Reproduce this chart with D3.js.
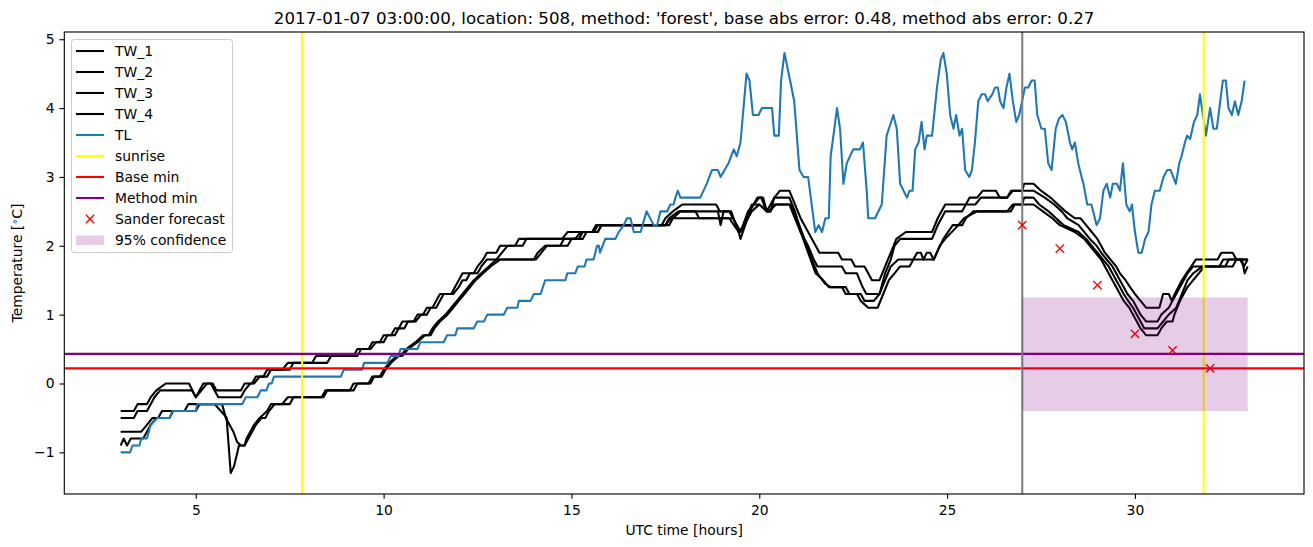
<!DOCTYPE html>
<html><head><meta charset="utf-8">
<script src="https://cdn.jsdelivr.net/npm/d3@7"></script>
<style>body{margin:0;background:#fff}svg{display:block}text{font-family:"DejaVu Sans",sans-serif}</style>
</head><body>
<svg id="c" width="1313" height="547"></svg>
<script>
const titleText = "2017-01-07 03:00:00, location: 508, method: 'forest', base abs error: 0.48, method abs error: 0.27";
const xTicks = [5,10,15,20,25,30];
const yTicks = [-1,0,1,2,3,4,5];
const seriesNames = ["TW_1","TW_2","TW_3","TW_4","TL"];
const sunrise = [7.83, 31.83];
const forecastStart = 27;
const baseMin = 0.22;
const methodMin = 0.43;
const forecastT = [27,28,29,30,31,32];
const forecastV = [2.3,1.96,1.43,0.72,0.48,0.22];
const confT = [27,33];
const confLow = -0.4, confHigh = 1.25;

const tw1 = [[3.0,-0.4],[3.35,-0.4],[3.45,-0.3],[3.7,-0.3],[3.8,-0.2],[3.95,-0.1],[4.2,0.0],[4.82,0.0],[5.0,-0.2],[5.2,0.0],[5.45,0.0],[5.55,-0.1],[6.2,-0.1],[6.3,0.0],[6.5,0.0],[6.6,0.1],[6.8,0.1],[6.9,0.2],[7.3,0.2],[7.45,0.3],[8.1,0.3],[8.2,0.4],[9.2,0.4],[9.3,0.5],[9.6,0.5],[9.7,0.6],[9.9,0.6],[10.0,0.7],[10.2,0.7],[10.3,0.8],[10.4,0.8],[10.5,0.9],[10.8,0.9],[10.9,1.0],[11.05,1.0],[11.15,1.1],[11.3,1.1],[11.4,1.2],[11.5,1.3],[11.8,1.3],[11.9,1.4],[12.0,1.5],[12.1,1.6],[12.4,1.6],[12.5,1.7],[12.65,1.8],[12.75,1.9],[13.0,1.9],[13.1,2.0],[13.5,2.0],[13.6,2.1],[14.75,2.1],[14.9,2.2],[15.55,2.2],[15.65,2.3],[17.4,2.3],[17.5,2.4],[17.7,2.5],[17.95,2.6],[18.85,2.6],[18.95,2.5],[19.2,2.5],[19.4,2.3],[19.5,2.2],[19.7,2.5],[19.85,2.6],[20.0,2.7],[20.1,2.7],[20.2,2.5],[20.3,2.6],[20.4,2.7],[20.55,2.8],[20.8,2.8],[20.95,2.6],[21.1,2.4],[21.3,2.2],[21.5,2.0],[21.6,1.9],[22.1,1.9],[22.2,1.8],[22.45,1.8],[22.55,1.7],[22.8,1.7],[22.9,1.6],[23.0,1.5],[23.2,1.5],[23.35,1.7],[23.5,1.9],[23.65,2.1],[23.9,2.2],[24.6,2.2],[24.75,2.4],[24.95,2.6],[25.5,2.6],[25.6,2.7],[25.8,2.7],[25.95,2.8],[26.3,2.8],[26.4,2.7],[26.6,2.7],[26.7,2.8],[27.0,2.8],[27.05,2.9],[27.3,2.9],[27.5,2.8],[27.75,2.7],[27.95,2.6],[28.15,2.5],[28.4,2.4],[28.55,2.4],[28.7,2.3],[28.85,2.2],[29.0,2.1],[29.1,2.0],[29.2,1.9],[29.35,1.8],[29.5,1.7],[29.6,1.6],[29.75,1.5],[29.87,1.4],[30.0,1.3],[30.15,1.2],[30.3,1.1],[30.65,1.1],[30.75,1.3],[30.9,1.3],[30.98,1.2],[31.06,1.3],[31.25,1.5],[31.37,1.6],[31.5,1.7],[31.62,1.8],[32.2,1.8],[32.3,1.9],[32.6,1.9],[32.7,1.8],[33.0,1.8]];
const tw2 = [[3.0,-0.5],[3.35,-0.5],[3.45,-0.4],[3.7,-0.4],[3.8,-0.3],[3.9,-0.2],[4.05,-0.1],[4.9,-0.1],[5.0,-0.2],[5.15,-0.1],[5.3,0.0],[5.4,0.0],[5.5,-0.1],[5.6,-0.2],[6.2,-0.2],[6.3,-0.1],[6.45,0.0],[6.55,0.0],[6.7,0.1],[6.9,0.1],[7.0,0.2],[7.5,0.2],[7.6,0.3],[8.5,0.3],[8.6,0.4],[9.3,0.4],[9.4,0.5],[9.65,0.5],[9.8,0.6],[10.0,0.6],[10.1,0.7],[10.3,0.7],[10.4,0.8],[10.55,0.8],[10.65,0.9],[10.85,0.9],[11.0,1.0],[11.15,1.0],[11.25,1.1],[11.4,1.1],[11.5,1.2],[11.6,1.3],[11.85,1.3],[12.0,1.4],[12.1,1.5],[12.2,1.5],[12.3,1.6],[12.5,1.6],[12.6,1.7],[12.75,1.8],[13.0,1.8],[13.15,1.9],[13.3,2.0],[13.7,2.0],[13.8,2.1],[15.1,2.1],[15.25,2.2],[15.7,2.2],[15.8,2.3],[17.5,2.3],[17.6,2.4],[17.85,2.5],[18.9,2.5],[18.97,2.3],[19.05,2.5],[19.25,2.5],[19.45,2.2],[19.5,2.1],[19.75,2.5],[19.95,2.7],[20.05,2.7],[20.2,2.5],[20.3,2.5],[20.4,2.7],[20.8,2.7],[20.95,2.5],[21.1,2.2],[21.3,2.0],[21.45,1.8],[21.55,1.7],[22.2,1.7],[22.3,1.6],[22.6,1.6],[22.75,1.4],[22.85,1.3],[23.2,1.3],[23.35,1.6],[23.5,1.8],[23.6,2.0],[23.75,2.1],[24.6,2.1],[24.75,2.3],[24.95,2.5],[25.4,2.5],[25.5,2.6],[25.75,2.6],[25.9,2.7],[26.6,2.7],[26.75,2.8],[27.3,2.8],[27.6,2.7],[27.85,2.6],[28.05,2.5],[28.2,2.4],[28.5,2.3],[28.65,2.2],[28.8,2.1],[28.98,2.0],[29.1,1.9],[29.25,1.8],[29.4,1.7],[29.5,1.6],[29.6,1.5],[29.7,1.4],[29.8,1.3],[29.95,1.2],[30.05,1.1],[30.15,1.0],[30.3,0.9],[30.6,0.9],[30.7,1.0],[30.9,1.1],[31.0,1.2],[31.2,1.4],[31.4,1.6],[31.55,1.7],[32.25,1.7],[32.35,1.8],[33.0,1.8]];
const tw3 = [[3.0,-0.7],[3.55,-0.7],[3.7,-0.6],[3.85,-0.5],[4.0,-0.5],[4.1,-0.4],[4.7,-0.4],[4.8,-0.3],[5.7,-0.3],[5.8,-0.5],[6.0,-0.7],[6.1,-0.85],[6.2,-0.9],[6.3,-0.9],[6.4,-0.8],[6.5,-0.7],[6.6,-0.6],[6.75,-0.5],[6.85,-0.5],[6.95,-0.4],[7.1,-0.3],[7.5,-0.3],[7.6,-0.2],[8.4,-0.2],[8.5,-0.1],[9.1,-0.1],[9.2,0.0],[9.6,0.0],[9.7,0.1],[9.9,0.1],[10.0,0.2],[10.15,0.3],[10.35,0.4],[10.45,0.4],[10.6,0.5],[10.85,0.6],[11.05,0.7],[11.2,0.7],[11.3,0.8],[11.45,0.9],[11.65,1.0],[11.8,1.1],[11.95,1.2],[12.1,1.3],[12.25,1.4],[12.4,1.5],[12.6,1.6],[12.8,1.7],[13.0,1.8],[14.0,1.8],[14.1,1.9],[14.3,2.0],[14.7,2.0],[14.8,2.1],[15.2,2.1],[15.3,2.2],[15.6,2.2],[15.7,2.3],[17.6,2.3],[17.7,2.4],[17.9,2.5],[18.3,2.5],[18.4,2.4],[19.2,2.4],[19.45,2.2],[19.6,2.3],[19.8,2.6],[20.0,2.6],[20.2,2.5],[20.3,2.5],[20.4,2.6],[20.8,2.6],[20.95,2.4],[21.1,2.2],[21.3,1.9],[21.5,1.6],[21.7,1.5],[21.85,1.4],[22.2,1.4],[22.3,1.3],[22.7,1.3],[22.8,1.2],[23.05,1.2],[23.2,1.3],[23.35,1.5],[23.5,1.7],[23.7,1.8],[24.1,1.8],[24.2,1.9],[24.3,1.9],[24.37,1.8],[24.46,1.9],[24.55,1.9],[24.64,1.8],[24.9,2.1],[25.15,2.3],[25.4,2.3],[25.5,2.4],[25.7,2.5],[26.6,2.5],[26.75,2.6],[27.0,2.6],[27.05,2.7],[27.3,2.7],[27.45,2.6],[27.7,2.5],[27.9,2.4],[28.1,2.3],[28.5,2.2],[28.7,2.1],[28.85,2.0],[29.0,1.9],[29.15,1.8],[29.3,1.7],[29.4,1.6],[29.5,1.5],[29.6,1.4],[29.7,1.3],[29.82,1.2],[29.95,1.1],[30.05,1.0],[30.15,0.9],[30.25,0.8],[30.6,0.8],[30.75,0.9],[30.9,1.0],[31.1,1.1],[31.25,1.3],[31.4,1.5],[31.55,1.6],[31.8,1.7],[32.4,1.7],[32.5,1.8],[32.8,1.8],[32.9,1.7],[33.0,1.8]];
const tw4 = [[3.0,-0.9],[3.08,-0.8],[3.17,-0.9],[3.27,-0.8],[3.6,-0.8],[3.7,-0.7],[3.8,-0.6],[3.95,-0.5],[4.3,-0.5],[4.4,-0.4],[5.0,-0.4],[5.1,-0.3],[5.5,-0.3],[5.75,-0.45],[5.82,-0.5],[5.93,-1.3],[6.02,-1.2],[6.15,-0.9],[6.3,-0.9],[6.35,-0.8],[6.45,-0.7],[6.55,-0.6],[6.7,-0.5],[6.9,-0.4],[7.0,-0.3],[7.3,-0.3],[7.45,-0.2],[8.35,-0.2],[8.45,-0.1],[9.2,-0.1],[9.3,0.0],[9.65,0.0],[9.75,0.1],[9.95,0.1],[10.05,0.2],[10.2,0.3],[10.4,0.4],[10.5,0.4],[10.65,0.5],[10.9,0.6],[11.1,0.7],[11.25,0.7],[11.35,0.8],[11.5,0.9],[11.7,1.0],[11.85,1.1],[12.0,1.2],[12.15,1.3],[12.3,1.4],[12.45,1.5],[12.65,1.6],[12.85,1.7],[13.1,1.8],[14.05,1.8],[14.2,1.9],[14.35,2.0],[14.9,2.0],[15.0,2.1],[15.3,2.1],[15.4,2.2],[15.7,2.2],[15.8,2.3],[17.5,2.3],[17.65,2.4],[19.3,2.4],[19.5,2.2],[19.8,2.5],[20.0,2.6],[20.25,2.5],[20.45,2.6],[20.85,2.6],[21.0,2.4],[21.2,2.1],[21.4,1.8],[21.55,1.6],[21.75,1.45],[21.9,1.4],[22.3,1.4],[22.4,1.3],[22.6,1.3],[22.7,1.2],[22.9,1.1],[23.15,1.1],[23.3,1.3],[23.45,1.5],[23.6,1.6],[23.75,1.7],[24.0,1.7],[24.1,1.8],[24.65,1.8],[24.8,2.0],[24.95,2.1],[25.3,2.3],[25.45,2.4],[25.8,2.5],[26.7,2.5],[26.8,2.6],[27.3,2.6],[27.55,2.5],[27.8,2.4],[28.0,2.3],[28.4,2.2],[28.65,2.1],[28.8,2.0],[28.95,1.9],[29.1,1.8],[29.2,1.7],[29.3,1.6],[29.4,1.5],[29.5,1.4],[29.6,1.3],[29.7,1.2],[29.85,1.1],[29.95,1.0],[30.05,0.9],[30.15,0.8],[30.3,0.7],[30.6,0.7],[30.7,0.8],[30.85,0.9],[31.0,0.9],[31.05,1.0],[31.2,1.2],[31.4,1.4],[31.55,1.5],[31.7,1.6],[31.85,1.7],[32.6,1.7],[32.7,1.8],[32.85,1.8],[32.92,1.6],[33.0,1.7]];
const tl = [[3.0,-1.0],[3.25,-1.0],[3.32,-0.9],[3.5,-0.9],[3.55,-0.8],[3.7,-0.8],[3.8,-0.6],[3.98,-0.5],[4.3,-0.5],[4.38,-0.4],[5.0,-0.4],[5.04,-0.3],[6.24,-0.3],[6.33,-0.2],[6.64,-0.2],[6.73,-0.1],[6.88,-0.1],[6.95,0.0],[7.02,0.0],[7.08,0.1],[8.86,0.1],[8.94,0.2],[9.43,0.2],[9.48,0.3],[10.1,0.3],[10.19,0.4],[10.4,0.4],[10.45,0.5],[10.9,0.5],[10.98,0.6],[11.6,0.6],[11.69,0.7],[11.91,0.7],[11.96,0.8],[12.4,0.8],[12.49,0.9],[12.67,0.9],[12.76,1.0],[13.2,1.0],[13.29,1.1],[13.56,1.1],[13.6,1.2],[13.91,1.2],[14.0,1.3],[14.18,1.3],[14.3,1.5],[14.84,1.5],[14.89,1.6],[15.1,1.6],[15.17,1.7],[15.35,1.7],[15.4,1.8],[15.59,1.8],[15.68,2.0],[15.73,2.0],[15.76,1.9],[15.9,2.1],[16.17,2.1],[16.26,2.2],[16.39,2.3],[16.48,2.4],[16.57,2.4],[16.66,2.2],[16.84,2.2],[17.0,2.5],[17.19,2.3],[17.28,2.3],[17.37,2.5],[17.55,2.5],[17.63,2.6],[17.72,2.6],[17.77,2.7],[17.83,2.8],[17.9,2.7],[18.43,2.7],[18.6,2.9],[18.74,3.1],[18.9,3.1],[18.97,3.0],[19.18,3.2],[19.32,3.4],[19.4,3.3],[19.5,3.5],[19.66,4.5],[19.74,4.4],[19.83,3.9],[19.98,3.9],[20.07,4.0],[20.34,4.0],[20.4,3.6],[20.52,3.6],[20.58,4.4],[20.67,4.8],[20.82,4.4],[20.93,4.1],[21.07,3.1],[21.18,3.0],[21.3,3.0],[21.49,2.2],[21.58,2.3],[21.67,2.2],[21.76,2.4],[21.85,2.4],[21.9,3.3],[22.07,4.0],[22.15,3.7],[22.24,2.9],[22.33,3.2],[22.5,3.4],[22.68,3.4],[22.76,3.5],[22.86,2.8],[22.9,2.4],[23.08,2.4],[23.26,2.6],[23.39,3.6],[23.57,3.9],[23.66,3.7],[23.75,2.9],[23.93,2.7],[24.0,2.8],[24.08,2.8],[24.15,3.4],[24.24,3.5],[24.32,3.8],[24.4,3.4],[24.46,3.6],[24.6,3.6],[24.73,4.3],[24.83,4.7],[24.9,4.8],[24.99,4.5],[25.08,3.9],[25.17,3.7],[25.24,3.9],[25.33,3.6],[25.4,3.7],[25.48,3.1],[25.59,3.0],[25.66,3.1],[25.74,3.5],[25.83,4.1],[25.92,4.2],[26.01,4.2],[26.08,4.1],[26.2,4.2],[26.28,4.3],[26.35,4.3],[26.41,4.1],[26.5,4.0],[26.58,4.3],[26.66,4.5],[26.75,4.1],[26.84,3.8],[26.92,3.9],[27.07,4.3],[27.16,4.3],[27.25,4.4],[27.33,4.4],[27.4,3.9],[27.51,3.7],[27.6,3.7],[27.69,3.2],[27.78,3.1],[27.89,3.7],[27.98,3.85],[28.07,3.9],[28.16,3.8],[28.27,3.5],[28.33,3.4],[28.4,3.5],[28.49,3.2],[28.58,3.0],[28.63,2.9],[28.73,2.6],[28.84,2.6],[28.98,2.3],[29.07,2.4],[29.16,2.8],[29.25,2.9],[29.34,2.7],[29.41,2.9],[29.52,2.9],[29.6,2.8],[29.68,3.2],[29.77,2.6],[29.86,2.5],[29.92,2.6],[30.0,2.2],[30.09,1.9],[30.18,1.9],[30.27,2.1],[30.36,2.2],[30.44,2.6],[30.53,2.8],[30.66,2.8],[30.76,3.0],[30.86,3.1],[30.95,3.1],[31.09,2.9],[31.18,3.2],[31.24,3.3],[31.33,3.5],[31.39,3.6],[31.47,3.55],[31.57,3.8],[31.66,3.9],[31.73,4.2],[31.81,3.9],[31.89,3.6],[32.0,4.0],[32.09,3.7],[32.18,3.7],[32.27,4.1],[32.34,4.4],[32.42,4.4],[32.49,4.0],[32.58,3.9],[32.66,4.1],[32.75,3.9],[32.84,4.1],[32.92,4.4]];

const PX = 100/72; // matplotlib pt -> px at dpi 100
const L = 64.3, R = 1304, T = 32, B = 494;
const x = d3.scaleLinear().domain([1.5, 34.5]).range([L, R]);
const y = d3.scaleLinear().domain([-1.605, 5.105]).range([B, T]);
const svg = d3.select("#c");
const fs = 10*PX;

svg.append("defs").append("clipPath").attr("id","clip").append("rect")
  .attr("x",L).attr("y",T).attr("width",R-L).attr("height",B-T);
const g = svg.append("g").attr("clip-path","url(#clip)");
const line = d3.line().x(d=>x(d[0])).y(d=>y(d[1]));
const lw = 1.5*PX;

[tw1,tw2,tw3,tw4].forEach(s=>{
  g.append("path").datum(s).attr("d",line).attr("fill","none").attr("stroke","#000").attr("stroke-width",lw).attr("stroke-linejoin","round");
});
g.append("path").datum(tl).attr("d",line).attr("fill","none").attr("stroke","#1f77b4").attr("stroke-width",lw).attr("stroke-linejoin","round");

sunrise.forEach(s=>{
  g.append("line").attr("x1",x(s)).attr("x2",x(s)).attr("y1",T).attr("y2",B).attr("stroke","#ffff00").attr("stroke-width",lw);
});
g.append("line").attr("x1",L).attr("x2",R).attr("y1",y(baseMin)).attr("y2",y(baseMin)).attr("stroke","#ff0000").attr("stroke-width",lw);
g.append("line").attr("x1",L).attr("x2",R).attr("y1",y(methodMin)).attr("y2",y(methodMin)).attr("stroke","#800080").attr("stroke-width",lw);
g.append("line").attr("x1",x(forecastStart)).attr("x2",x(forecastStart)).attr("y1",T).attr("y2",B).attr("stroke","#808080").attr("stroke-width",lw);

const ms = 3*PX;
forecastT.forEach((t,i)=>{
  const cx=x(t), cy=y(forecastV[i]);
  g.append("path").attr("d",`M${cx-ms},${cy-ms}L${cx+ms},${cy+ms}M${cx-ms},${cy+ms}L${cx+ms},${cy-ms}`)
   .attr("stroke","#ff0000").attr("stroke-width",1*PX).attr("fill","none");
});
g.append("rect").attr("x",x(confT[0])).attr("y",y(confHigh)).attr("width",x(confT[1])-x(confT[0])).attr("height",y(confLow)-y(confHigh))
  .attr("fill","#800080").attr("fill-opacity",0.2);

// axes
const tl4 = 3.5*PX;
const xa = svg.append("g").attr("transform",`translate(0,${B})`)
  .call(d3.axisBottom(x).tickValues(xTicks).tickSize(tl4).tickPadding(5.8).tickSizeOuter(0));
const ya = svg.append("g").attr("transform",`translate(${L},0)`)
  .call(d3.axisLeft(y).tickValues(yTicks).tickSize(tl4).tickPadding(4.86).tickSizeOuter(0).tickFormat(d=> d<0 ? "\u2212"+Math.abs(d) : String(d)));
[xa,ya].forEach(a=>{
  a.select(".domain").remove();
  a.selectAll("line").attr("stroke","#000").attr("stroke-width",0.8*PX);
  a.selectAll("text").attr("font-size",fs).attr("fill","#000").attr("font-family","DejaVu Sans");
});
svg.append("rect").attr("x",L).attr("y",T).attr("width",R-L).attr("height",B-T)
  .attr("fill","none").attr("stroke","#000").attr("stroke-width",0.8*PX);

svg.append("text").attr("x",(L+R)/2).attr("y",23.5).attr("text-anchor","middle").attr("font-size",12*PX).text(titleText);
svg.append("text").attr("x",(L+R)/2).attr("y",535).attr("text-anchor","middle").attr("font-size",fs).text("UTC time [hours]");
const yl = svg.append("text").attr("transform","translate(22,263) rotate(-90)").attr("text-anchor","middle").attr("font-size",fs);
yl.append("tspan").text("Temperature [");
yl.append("tspan").attr("dy",-4).attr("font-size",fs*0.7).text("\u2218");
yl.append("tspan").attr("dy",4).text("C]");

// legend
const lg = svg.append("g");
lg.append("rect").attr("x",71.5).attr("y",39.5).attr("width",161).attr("height",213).attr("rx",2.8)
  .attr("fill","#fff").attr("fill-opacity",0.8).attr("stroke","#cccccc").attr("stroke-width",1);
const legendItems = [
  {name:seriesNames[0], type:"line", color:"#000"},
  {name:seriesNames[1], type:"line", color:"#000"},
  {name:seriesNames[2], type:"line", color:"#000"},
  {name:seriesNames[3], type:"line", color:"#000"},
  {name:seriesNames[4], type:"line", color:"#1f77b4"},
  {name:"sunrise", type:"line", color:"#ffff00"},
  {name:"Base min", type:"line", color:"#ff0000"},
  {name:"Method min", type:"line", color:"#800080"},
  {name:"Sander forecast", type:"x", color:"#ff0000"},
  {name:"95% confidence", type:"patch", color:"#800080"}
];
legendItems.forEach((it,i)=>{
  const cy = 51 + i*21;
  if(it.type==="line"){
    lg.append("line").attr("x1",76).attr("x2",104).attr("y1",cy).attr("y2",cy).attr("stroke",it.color).attr("stroke-width",lw);
  } else if(it.type==="x"){
    lg.append("path").attr("d",`M${90-ms},${cy-ms}L${90+ms},${cy+ms}M${90-ms},${cy+ms}L${90+ms},${cy-ms}`).attr("stroke",it.color).attr("stroke-width",1*PX);
  } else {
    lg.append("rect").attr("x",76).attr("y",cy-4.5).attr("width",28).attr("height",9.5).attr("fill",it.color).attr("fill-opacity",0.2);
  }
  lg.append("text").attr("x",115).attr("y",cy).attr("dy","0.36em").attr("font-size",fs).text(it.name);
});
</script>
</body></html>
